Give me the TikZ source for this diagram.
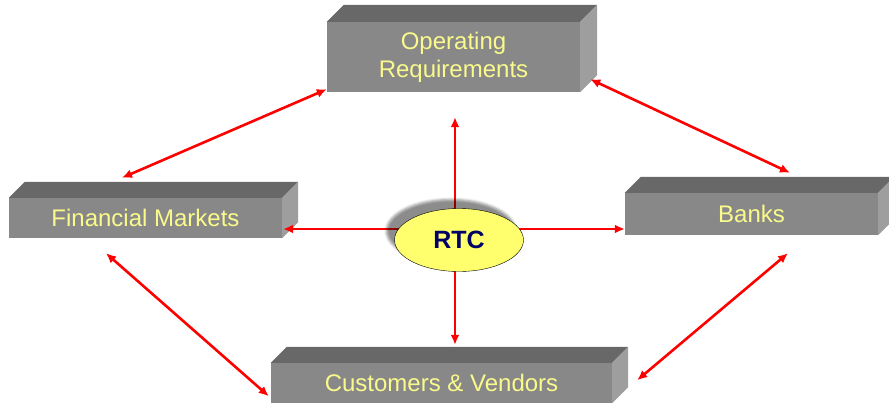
\documentclass[tikz,border=0pt]{standalone}
\usepackage{fontspec}
\setmainfont{Liberation Sans}
\usetikzlibrary{arrows.meta,shapes.geometric,shadows.blur}
\definecolor{boxfront}{RGB}{136,136,136}
\definecolor{boxtop}{RGB}{104,104,104}
\definecolor{boxside}{RGB}{158,158,158}
\definecolor{boxtext}{RGB}{250,250,140}
\definecolor{rtcfill}{RGB}{255,255,110}
\definecolor{rtctext}{RGB}{0,0,102}
\tikzset{
	front/.style={
			fill=boxfront, text=boxtext, inner sep=0pt, align=center,
			font=\fontsize{24}{28}\selectfont
		},
	topface/.style={fill=boxtop},
	sideface/.style={fill=boxside},
	link/.style={red, line width=2.6pt,
			{Latex[length=10pt,width=9pt]}-{Latex[length=10pt,width=9pt]}},
	spoke/.style={red, line width=2.6pt, -{Latex[length=10pt,width=9pt]}}
}
% top and right faces of a box node: #1 = node, #2 = depth
\newcommand{\boxfaces}[2]{%
	\fill[topface] (#1.north west) -- ++(#2,-#2) -- ([shift={(#2,-#2)}]#1.north east) -- (#1.north east) -- cycle;
	\fill[sideface] (#1.north east) -- ++(#2,-#2) -- ([shift={(#2,-#2)}]#1.south east) -- (#1.south east) -- cycle;}

\begin{document}
\begin{tikzpicture}[x=1pt,y=-1pt]
			\useasboundingbox (0,0) rectangle (889,407);
			
			% The four boxes
			\node[front, minimum width=253pt, minimum height=70pt] (ops) at (453.5,57) {Operating\\Requirements};
			\boxfaces{ops}{17}
			
			\node[front, minimum width=273pt, minimum height=40pt] (fin) at (145.5,218) {Financial Markets};
			\boxfaces{fin}{16}
			
			\node[front, minimum width=253pt, minimum height=42pt] (banks) at (751.5,214) {Banks};
			\boxfaces{banks}{16}
			
			\node[front, minimum width=341pt, minimum height=40pt] (cust) at (441.5,383) {Customers \& Vendors};
			\boxfaces{cust}{16}
			
			% Links between the boxes
			\draw[link] ([shift={(0,-3)}]ops.south west) -- ([shift={(-23.5,-20)}]fin.north);
			\draw[link] ([shift={(10,-13)}]ops.south east) -- ([shift={(38.5,-20)}]banks.north);
			\draw[link] ([shift={(-39.5,15)}]fin.south) -- ([shift={(-2,-7)}]cust.south west);
			\draw[link] ([shift={(36.5,18)}]banks.south) -- ([shift={(25,-23)}]cust.south east);
			
			% Spokes out of RTC
			\coordinate (hub) at (455,229);
			\draw[spoke, shorten >=25pt] (hub) -- (hub |- ops.south);
			\draw[spoke, shorten >=18pt] (hub) -- (hub |- cust.north);
			\draw[spoke, shorten >=1pt] (hub) -- (hub -| fin.east);
			\draw[spoke] (hub) -- (hub -| banks.west);
			
			% RTC in the middle
			\node[ellipse, draw=black, fill=rtcfill, minimum width=129pt, minimum height=63pt, inner sep=0pt,
				text=rtctext, font=\bfseries\fontsize{25}{28}\selectfont,
				blur shadow={shadow xshift=-8pt, shadow yshift=9pt, shadow blur radius=2.5pt, shadow opacity=45}]
				(rtc) at (459,240) {RTC};
			
		\end{tikzpicture}
\end{document}
